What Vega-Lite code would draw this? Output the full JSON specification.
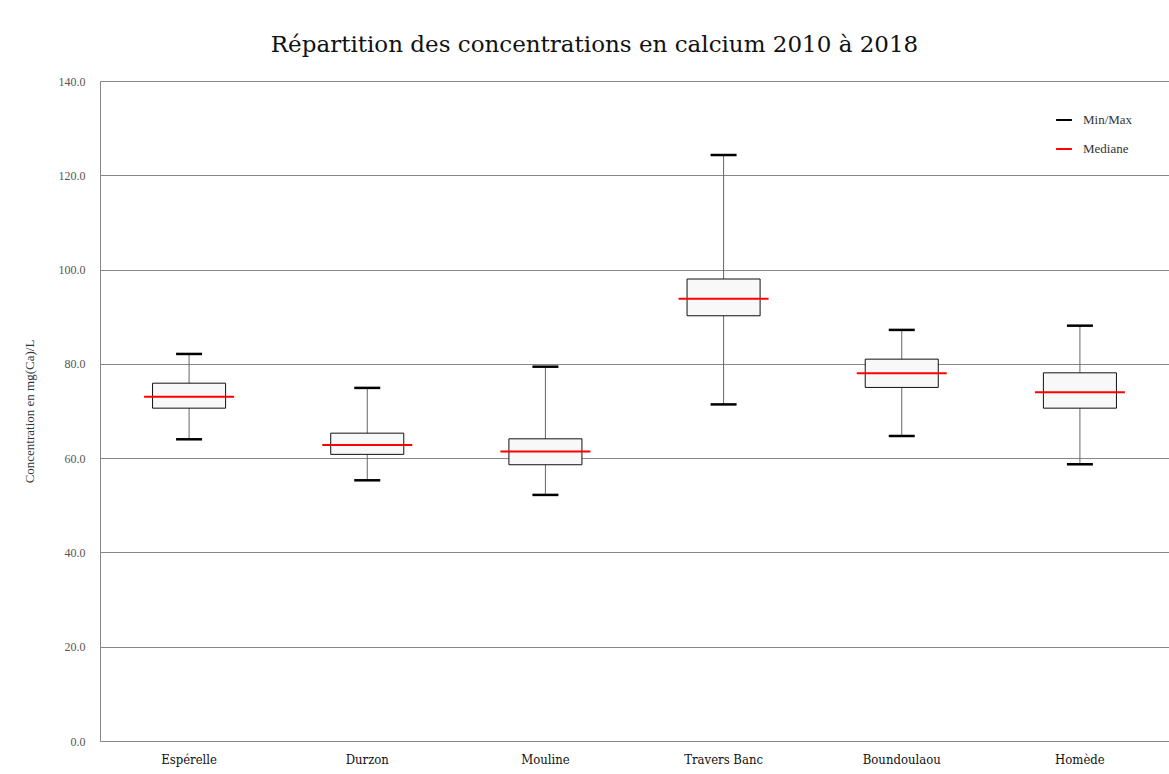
{
  "$schema": "https://vega.github.io/schema/vega-lite/v6.json",
  "autosize": {"type": "none"},
  "width": 1069,
  "height": 660,
  "padding": {"left": 100, "top": 81, "right": 0, "bottom": 33},
  "background": "white",
  "title": {
    "text": "Répartition des concentrations en calcium 2010 à 2018",
    "font": "DejaVu Serif",
    "fontSize": 23,
    "fontWeight": "normal",
    "color": "#111",
    "anchor": "middle",
    "frame": "group",
    "dx": -40,
    "offset": 18
  },
  "data": {
    "values": [
      {"site": "Espérelle", "min": 64.0, "q1": 70.6, "median": 73.0, "q3": 75.9, "max": 82.1},
      {"site": "Durzon", "min": 55.3, "q1": 60.8, "median": 62.8, "q3": 65.3, "max": 74.9},
      {"site": "Mouline", "min": 52.2, "q1": 58.6, "median": 61.4, "q3": 64.1, "max": 79.4},
      {"site": "Travers Banc", "min": 71.4, "q1": 90.2, "median": 93.8, "q3": 98.0, "max": 124.3},
      {"site": "Boundoulaou", "min": 64.7, "q1": 75.0, "median": 78.0, "q3": 81.0, "max": 87.2},
      {"site": "Homède", "min": 58.7, "q1": 70.6, "median": 74.0, "q3": 78.1, "max": 88.1}
    ]
  },
  "encoding": {
    "x": {
      "field": "site",
      "type": "nominal",
      "sort": null,
      "scale": {"paddingInner": 0, "paddingOuter": 0},
      "axis": {
        "title": null,
        "labelAngle": 0,
        "labelFont": "DejaVu Serif Condensed",
        "labelFontSize": 13,
        "labelColor": "#111",
        "labelPadding": 12,
        "ticks": false,
        "domainColor": "#888",
        "grid": false
      }
    }
  },
  "layer": [
    {
      "mark": {"type": "rule", "color": "#666", "strokeWidth": 1},
      "encoding": {
        "y": {
          "field": "min",
          "type": "quantitative",
          "scale": {"domain": [0, 140], "nice": false},
          "axis": {
            "title": "Concentration en mg(Ca)/L",
            "titleFont": "Liberation Serif",
            "titleFontSize": 13,
            "titleFontWeight": "normal",
            "titleColor": "#333",
            "titlePadding": 22,
            "values": [0, 20, 40, 60, 80, 100, 120, 140],
            "format": ".1f",
            "labelFont": "Liberation Serif",
            "labelFontSize": 12,
            "labelColor": "#555",
            "labelPadding": 15,
            "ticks": false,
            "domainColor": "#888",
            "gridColor": "#888",
            "gridWidth": 1
          }
        },
        "y2": {"field": "max"}
      }
    },
    {
      "mark": {"type": "bar", "fill": "#f8f8f8", "stroke": "#111", "strokeWidth": 1, "width": {"band": 0.41}},
      "encoding": {
        "y": {"field": "q1", "type": "quantitative"},
        "y2": {"field": "q3"}
      }
    },
    {
      "mark": {"type": "tick", "size": 26, "thickness": 2.5, "opacity": 1},
      "encoding": {
        "y": {"field": "min", "type": "quantitative"},
        "color": {"datum": "Min/Max"}
      }
    },
    {
      "mark": {"type": "tick", "size": 26, "thickness": 2.5, "opacity": 1},
      "encoding": {
        "y": {"field": "max", "type": "quantitative"},
        "color": {"datum": "Min/Max"}
      }
    },
    {
      "mark": {"type": "tick", "size": 90, "thickness": 2, "opacity": 1},
      "encoding": {
        "y": {"field": "median", "type": "quantitative"},
        "color": {
          "datum": "Mediane",
          "scale": {"domain": ["Min/Max", "Mediane"], "range": ["black", "red"]},
          "legend": {
            "title": null,
            "orient": "none",
            "legendX": 955,
            "legendY": 30,
            "symbolType": "stroke",
            "symbolStrokeWidth": 2,
            "symbolSize": 250,
            "symbolOpacity": 1,
            "rowPadding": 13,
            "labelFont": "Liberation Serif",
            "labelFontSize": 13,
            "labelColor": "#333",
            "labelOffset": 10,
            "encode": {
              "symbols": {"update": {"stroke": {"scale": "color", "field": "value"}, "opacity": {"value": 1}}}
            }
          }
        }
      }
    }
  ],
  "config": {
    "view": {"stroke": null}
  }
}
